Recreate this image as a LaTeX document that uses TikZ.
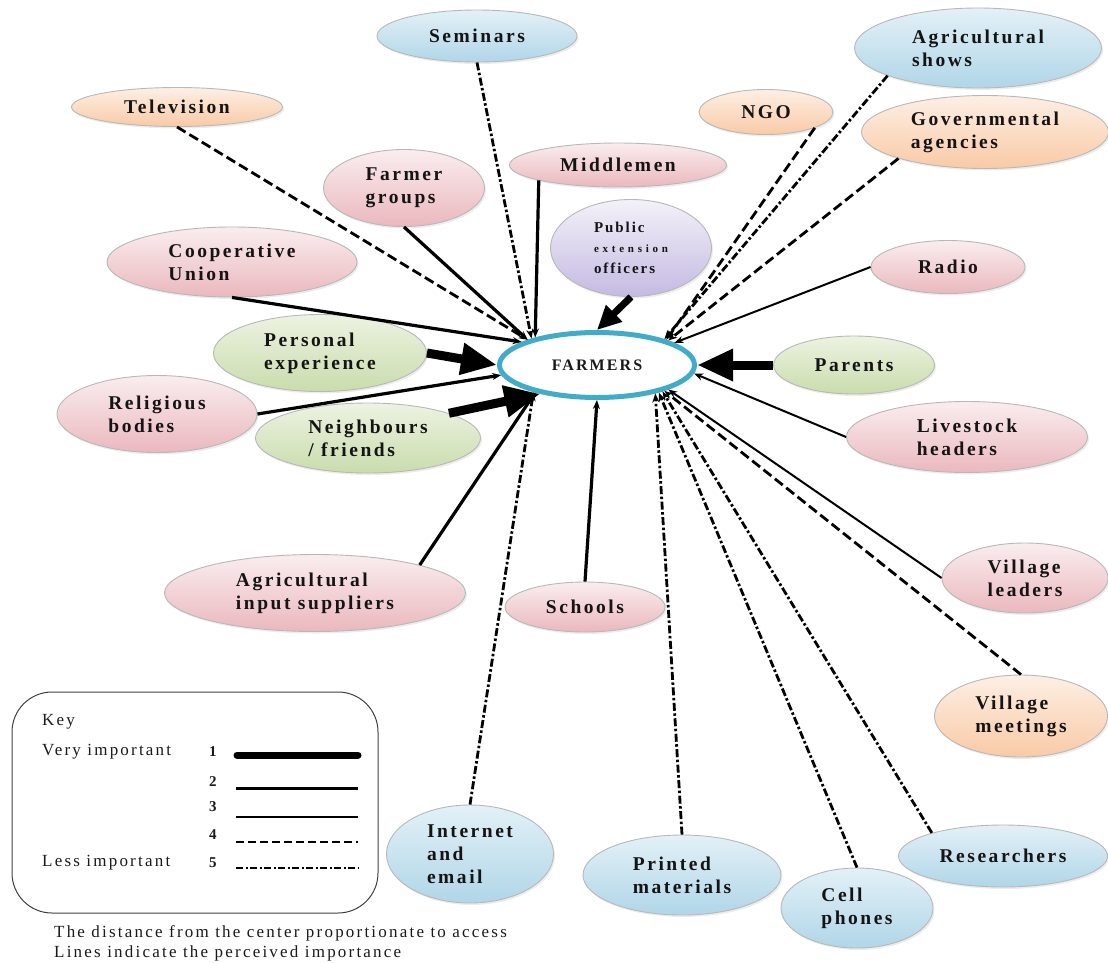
\documentclass[tikz,border=0pt]{standalone}
\usepackage{fontspec}
\setmainfont{Liberation Serif}
\newfontfamily\lab[LetterSpace=13]{Liberation Serif}
\usetikzlibrary{shapes.geometric,arrows.meta,shadows}
\definecolor{pinkc}{RGB}{234,184,190}
\definecolor{bluec}{RGB}{176,214,232}
\definecolor{orangec}{RGB}{249,202,166}
\definecolor{greenc}{RGB}{202,220,172}
\definecolor{purpc}{RGB}{196,186,226}
\definecolor{cyanc}{RGB}{66,172,200}
\begin{document}
\begin{tikzpicture}[x=1pt,y=-1pt,
  bub/.style={ellipse, draw=black!28, line width=0.9pt, inner sep=0pt, align=left,
    text=black!92, font=\lab\bfseries\fontsize{19.5}{23}\selectfont,
    drop shadow={opacity=0.15,shadow xshift=1.5pt,shadow yshift=-2pt}},
  sz/.style 2 args={minimum width=#1pt, minimum height=#2pt},
  pinkb/.style={bub, top color=pinkc!25, bottom color=pinkc},
  blueb/.style={bub, top color=bluec!35, bottom color=bluec},
  orangeb/.style={bub, top color=orangec!30, bottom color=orangec},
  greenb/.style={bub, top color=greenc!35, bottom color=greenc},
  purpb/.style={bub, top color=purpc!20, bottom color=purpc},
  tipS/.style={-{Stealth[length=9pt,width=7pt]}},
  c1/.style={line width=9pt, -{Triangle[length=36pt,width=30pt]}},
  c1s/.style={line width=7pt, -{Triangle[length=24pt,width=22pt]}},
  c2/.style={line width=3.2pt, tipS},
  c3/.style={line width=2pt, tipS},
  c4/.style={line width=2.8pt, dash pattern=on 10pt off 4.5pt, tipS},
  c5/.style={line width=2.8pt, dash pattern=on 8pt off 2.5pt on 2.5pt off 2.5pt, tipS},
  keytxt/.style={anchor=west, inner sep=0pt, font=\lab\fontsize{17}{20}\selectfont, text=black!90},
  keynum/.style={anchor=west, inner sep=0pt, font=\bfseries\fontsize{15}{18}\selectfont, text=black!90}
]
\useasboundingbox (0,0) rectangle (1108,962);

% centre
\node[ellipse, draw=cyanc, line width=5pt, fill=white, inner sep=0pt, sz={195}{65},
  font=\lab\bfseries\fontsize{16}{18}\selectfont, text=black!90] (farm) at (597,365) {FARMERS};

% sources
\node[blueb, sz={200}{52}] (sem) at (477,36) {Seminars};
\node[orangeb, sz={211}{39}] (tv) at (177,107) {Television};
\node[blueb, sz={247}{80}] (ags) at (978,48) {Agricultural\\shows};
\node[orangeb, sz={134}{45}] (ngo) at (766,112) {NGO};
\node[orangeb, sz={247}{73}] (gov) at (985,132) {Governmental\\agencies};
\node[pinkb, sz={217}{44}] (mid) at (618,165) {Middlemen};
\node[pinkb, sz={161}{77}] (fg) at (404,188) {Farmer\\groups};
\node[purpb, sz={161}{97}] (pe) at (631,248)
  {{\fontsize{15}{19}\selectfont Public}\\[-3pt]
   {\fontsize{11}{15}\selectfont\addfontfeature{LetterSpace=34}extension}\\[-2pt]
   {\fontsize{15}{19}\selectfont officers}};
\node[pinkb, sz={250}{70}] (coop) at (232,262) {Cooperative\\Union};
\node[pinkb, sz={154}{53}] (radio) at (948,267) {Radio};
\node[greenb, sz={213}{77}] (pex) at (320,353) {Personal\\experience};
\node[greenb, sz={161}{58}] (par) at (854,365) {Parents};
\node[pinkb, sz={200}{77}] (rb) at (157,414) {Religious\\bodies};
\node[greenb, sz={225}{70}] (nb) at (368,438) {Neighbours\\/ friends};
\node[pinkb, sz={241}{71}] (live) at (967,437) {Livestock\\headers};
\node[pinkb, sz={166}{70}] (vl) at (1025,578) {Village\\leaders};
\node[pinkb, sz={301}{77}] (ai) at (315,593) {Agricultural\\input suppliers};
\node[pinkb, sz={160}{50}] (sch) at (585,607) {Schools};
\node[orangeb, sz={173}{82}] (vm) at (1021,716) {Village\\meetings};
\node[blueb, sz={167}{98}] (ie) at (470,854) {Internet\\and\\email};
\node[blueb, sz={198}{80}] (pm) at (682,875) {Printed\\materials};
\node[blueb, sz={152}{80}] (cell) at (857,908) {Cell\\phones};
\node[blueb, sz={209}{62}] (res) at (1003,856) {Researchers};

% connectors
\draw[c4] (tv.south) -- (farm.160);
\draw[c5] (sem.south) -- (farm.158);
\draw[c2] (fg.south) -- (farm.160);
\draw[c2] (mid.191) -- (farm.156);
\draw[c2] (coop.south) -- (farm.163);
\draw[c1s] (pe.south) -- (farm.90);
\draw[c4] (ngo.342) -- (farm.20);
\draw[c5] (ags.197) -- (farm.21);
\draw[c4] (gov.197) -- (farm.19);
\draw[c3] (radio.west) -- (farm.16);
\draw[c1] (par.west) -- (farm.0);
\draw[c3] (live.west) -- (farm.-5);
\draw[c1] (pex.east) -- (farm.180);
\draw[c2] (rb.east) -- (farm.186);
\draw[c1] (nb.17) -- (farm.207);
\draw[c2] (ai.15) -- (farm.204);
\draw[c5] (ie.north) -- (farm.203);
\draw[c2] (sch.north) -- (farm.270);
\draw[c5] (pm.north) -- (farm.-26);
\draw[c5] (cell.north) -- (farm.-24);
\draw[c5] (res.162) -- (farm.-22);
\draw[c4] (vm.north) -- (farm.-21);
\draw[c3] (vl.west) -- (farm.-19);

% key
\draw[black!75, line width=1pt, rounded corners=40pt] (12,692) rectangle (378,913);
\node[keytxt] (kk) at (42,722) {Key};
\node[keytxt] (kv) at (42,752) {Very important};
\node[keytxt] (kl) at (42,863) {Less important};
\node[keynum] (n1) at (209,752) {1};
\node[keynum] (n2) at (209,782) {2};
\node[keynum] (n3) at (209,807) {3};
\node[keynum] (n4) at (209,835) {4};
\node[keynum] (n5) at (209,863) {5};
\draw[line width=7pt, line cap=round] (237,755) -- (358,755);
\draw[line width=3pt] (236,788) -- (358,788);
\draw[line width=1.2pt] (236,817) -- (358,817);
\draw[line width=2.5pt, dash pattern=on 8pt off 4pt] (236,842) -- (358,842);
\draw[line width=1.6pt, dash pattern=on 7pt off 2.5pt on 2pt off 2.5pt] (236,868) -- (358,868);

% caption
\node[keytxt] (cap1) at (54,933) {The distance from the center proportionate to access};
\node[keytxt] (cap2) at (54,953) {Lines indicate the perceived importance};
\end{tikzpicture}
\end{document}
